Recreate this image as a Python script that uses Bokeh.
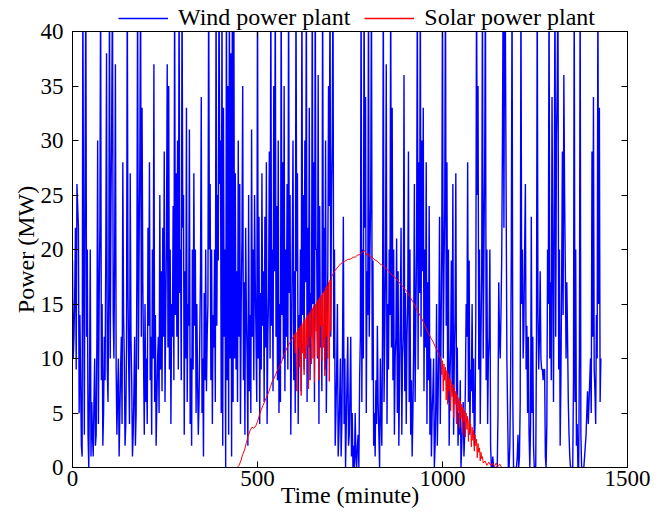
from bokeh.plotting import figure
from bokeh.layouts import column
from bokeh.models import Range1d, LinearAxis, FixedTicker, Legend, LegendItem
from bokeh.embed import file_html
from bokeh.resources import INLINE

# ---- data ----
x_ticks = [0, 500, 1000, 1500]
y_ticks = [0, 5, 10, 15, 20, 25, 30, 35, 40]

# wind power at every 4th minute (values above 40 are clipped by the axis)
wind_power = [
    19, 12, 22, 26, 22, 14, 2, 45, 3, 45,        # 0-36
    20, 0, 20, 6, 1, 10, 3, 30, 15, 45,          # 40-76
    15, 5, 8, 38, 6, 45, 24, 45, 10, 37,         # 80-116
    3, 10, 5, 12, 28, 10, 4, 45, 9, 27,          # 120-156
    8, 3, 12, 5, 45, 20, 45, 33, 10, 15,         # 160-196
    10, 22, 28, 12, 20, 37, 14, 6, 12, 25,       # 200-236
    18, 22, 29, 14, 37, 35, 20, 15, 24, 45,      # 240-276
    27, 30, 45, 20, 45, 25, 18, 33, 15, 31,      # 280-316
    10, 20, 27, 20, 15, 3, 12, 34, 10, 16,       # 320-356
    20, 12, 45, 26, 20, 14, 20, 45, 25, 45,      # 360-396
    30, 45, 33, 20, 45, 35, 45, 38, 45, 45,      # 400-436
    27, 18, 30, 26, 15, 35, 17, 22, 10, 25,      # 440-476
    14, 31, 20, 25, 12, 45, 23, 16, 27, 18,      # 480-516
    23, 28, 12, 29, 45, 20, 35, 45, 24, 30,      # 520-556
    15, 45, 28, 35, 20, 26, 45, 25, 12, 30,      # 560-596
    18, 45, 27, 14, 20, 45, 25, 30, 45, 22,      # 600-636
    33, 16, 45, 28, 45, 20, 36, 24, 14, 45,      # 640-676
    22, 30, 12, 35, 45, 25, 45, 20, 5, 15,       # 680-716
    3, 10, 4, 23, 10, 4, 12, 3, 12, 5,           # 720-756
    2, 5, 0, 3, 8, 45, 20, 45, 34, 18,           # 760-796
    45, 20, 45, 19, 5, 8, 13, 3, 10, 2,          # 800-836
    45, 12, 37, 15, 20, 45, 33, 20, 10, 21,      # 840-876
    18, 8, 22, 10, 36, 16, 12, 29, 20, 8,        # 880-916
    5, 26, 14, 45, 28, 45, 30, 33, 20, 28,       # 920-956
    17, 24, 10, 5, 10, 2, 15, 6, 23, 12,         # 960-996
    45, 18, 45, 28, 20, 8, 19, 26, 10, 27,       # 1000-1036
    11, 5, 8, 2, 6, 3, 15, 28, 19, 9,            # 1040-1076
    15, 10, 4, 45, 35, 20, 12, 45, 20, 45,       # 1080-1116
    20, 10, 20, 0, 1, 0, 0, 0, 17, 10,           # 1120-1156
    19, 45, 45, 25, 5, 0, 8, 45, 0, 0,           # 1160-1196
    0, 3, 1, 45, 20, 13, 26, 13, 12, 0,          # 1200-1236
    23, 12, 0, 0, 45, 9, 18, 9, 8, 9,            # 1240-1276
    0, 20, 45, 17, 34, 6, 45, 30, 45, 20,        # 1280-1316
    8, 29, 36, 18, 17, 6, 1, 0, 0, 45,           # 1320-1356
    20, 4, 0, 45, 0, 0, 1, 3, 7, 6,              # 1360-1396
    10, 29, 34, 7, 14, 45, 33, 10,               # 1400-1428
]
# wind power at the minutes in between (2, 6, 10, ...)
wind_power_between = [
    10, 16, 9, 24, 5, 8, 1, 18, 28, 12,          # 2-38
    3, 8, 1, 3, 6, 2, 12, 4, 22, 8,              # 42-78
    2, 12, 20, 9, 16, 10, 32, 14, 20, 9,         # 82-118
    7, 1, 9, 4, 14, 2, 11, 16, 4, 12,            # 122-158
    1, 7, 2, 18, 9, 28, 12, 17, 3, 6,            # 162-198
    4, 13, 8, 3, 10, 6, 2, 10, 5, 9,             # 202-238
    7, 12, 6, 21, 11, 9, 4, 12, 8, 14,           # 242-278
    12, 9, 16, 8, 22, 3, 10, 6, 13, 4,           # 282-318
    2, 9, 13, 5, 8, 6, 18, 5, 1, 8,              # 322-358
    7, 15, 20, 8, 4, 11, 6, 13, 19, 26,          # 362-398
    5, 2, 12, 0, 8, 3, 10, 1, 6, 10,             # 402-438
    9, 6, 12, 4, 21, 8, 3, 14, 2, 7,             # 442-478
    5, 12, 8, 17, 6, 10, 4, 9, 13, 6,            # 482-518
    11, 4, 16, 10, 13, 7, 18, 12, 8, 5,          # 522-558
    6, 14, 10, 7, 12, 9, 16, 3, 20, 8,           # 562-598
    5, 18, 4, 10, 7, 14, 9, 17, 6, 11,           # 602-638
    8, 12, 15, 6, 20, 10, 4, 11, 7, 16,          # 642-678
    9, 5, 18, 24, 12, 30, 10, 2, 9, 1,           # 682-718
    6, 1, 12, 4, 0, 8, 2, 7, 1, 0,               # 722-758
    0, 1, 2, 0, 12, 6, 10, 22, 5, 14,            # 762-798
    12, 25, 8, 2, 1, 4, 6, 0, 5, 13,             # 802-838
    6, 19, 4, 9, 14, 11, 8, 3, 12, 5,            # 842-878
    2, 14, 3, 12, 7, 4, 15, 6, 3, 1,             # 882-918
    11, 6, 20, 9, 16, 12, 18, 7, 11, 4,          # 922-958
    8, 3, 1, 7, 0, 6, 2, 11, 4, 20,              # 962-998
    10, 24, 13, 6, 2, 11, 7, 3, 14, 4,           # 1002-1038
    2, 3, 0, 4, 1, 8, 12, 6, 3, 7,               # 1042-1078
    5, 2, 14, 25, 9, 4, 18, 10, 28, 8,           # 1082-1118
    4, 12, 2, 0, 0, 0, 0, 5, 12, 14,             # 1122-1158
    30, 22, 40, 10, 0, 2, 20, 6, 0, 0,           # 1162-1198
    1, 0, 6, 15, 10, 20, 9, 5, 3, 4,             # 1202-1238
    5, 2, 0, 12, 14, 12, 10, 9, 9, 1,            # 1242-1278
    4, 15, 10, 8, 19, 24, 12, 35, 9, 2,          # 1282-1318
    17, 14, 25, 10, 12, 3, 0, 0, 8, 6,           # 1322-1358
    2, 0, 10, 3, 0, 0, 2, 5, 4, 8,               # 1362-1398
    5, 12, 9, 4, 10, 15, 6,                      # 1402-1426
]
wind_series = []
for i, v in enumerate(wind_power):
    wind_series.append(v)
    if i < len(wind_power_between):
        wind_series.append(wind_power_between[i])
wind_time = [2 * i for i in range(len(wind_series))]

# solar power, piecewise samples
solar_rise_time = [0, 440] + list(range(445, 600, 5))
solar_rise_power = [0, 0, 0.0, 0.2, 0.6, 1.2, 1.6, 2.3, 2.9, 3.4, 3.7, 3.6, 3.8,
                    4.2, 4.8, 5.3, 5.7, 6.1, 6.5, 6.9, 7.4, 7.9, 8.2, 8.6, 9.0,
                    9.3, 9.7, 10.2, 10.6, 11.0, 11.3, 11.6, 11.9]

solar_noisy1_time = list(range(600, 700, 2))
solar_noisy1_power = [
    12.2, 10.5, 12.4, 7.0, 12.6, 11.0, 12.8, 9.2, 13.0, 6.6,
    13.2, 10.5, 13.4, 8.5, 13.6, 10.0, 13.8, 11.2, 14.0, 7.2,
    14.2, 12.0, 14.4, 9.5, 14.6, 10.0, 14.8, 7.8, 15.0, 12.5,
    15.2, 10.2, 15.4, 8.0, 15.6, 13.0, 15.8, 9.8, 16.0, 11.0,
    16.2, 8.4, 16.5, 12.0, 16.7, 10.0, 17.0, 7.9, 17.2, 12.5,
]

solar_mid_time = list(range(700, 1000, 5))
solar_mid_power = [
    17.5, 17.8, 18.1, 18.3, 18.5, 18.7, 18.8, 18.9, 19.0, 19.1,
    19.1, 19.2, 19.3, 19.3, 19.5, 19.5, 19.7, 19.8, 19.9, 19.5,
    19.6, 19.3, 19.3, 19.1, 19.0, 18.9, 18.7, 18.6, 18.5, 18.3,
    18.2, 18.0, 17.8, 17.6, 17.5, 17.3, 17.1, 16.9, 16.7, 16.5,
    16.3, 16.1, 15.8, 15.5, 15.2, 14.9, 14.5, 14.2, 13.9, 13.6,
    13.2, 12.8, 12.4, 12.1, 11.8, 11.5, 11.1, 10.8, 10.4, 10.0,
]

solar_noisy2_time = list(range(996, 1112, 2))
solar_noisy2_power = [
    10.0, 8.5, 9.8, 7.0, 9.5, 8.0, 9.2, 6.2, 8.9, 5.8,
    8.6, 7.0, 8.2, 5.2, 7.9, 6.5, 7.6, 4.6, 7.3, 5.8,
    7.0, 4.0, 6.7, 5.2, 6.4, 3.6, 6.1, 4.5, 5.8, 3.0,
    5.5, 4.2, 5.2, 2.8, 5.0, 3.5, 4.7, 2.4, 4.4, 3.2,
    4.0, 1.9, 3.7, 2.5, 3.4, 1.5, 3.0, 2.0, 2.6, 0.9,
    2.2, 1.4, 1.8, 0.6, 1.4, 0.8, 1.0, 0.4,
]

solar_tail_time = [1115, 1120, 1125, 1130, 1135, 1140, 1145, 1150, 1155, 1160, 1170, 1436]
solar_tail_power = [0.6, 0.2, 0.5, 0.2, 0.4, 0.1, 0.4, 0.1, 0.3, 0.0, 0.0, 0.0]

solar_time = solar_rise_time + solar_noisy1_time + solar_mid_time + solar_noisy2_time + solar_tail_time
solar_power = solar_rise_power + solar_noisy1_power + solar_mid_power + solar_noisy2_power + solar_tail_power

series_names = ["Wind power plant", "Solar power plant"]
series_colors = ["#0000FF", "#FF0000"]

# ---- main figure ----
FONT = "Liberation Serif"

p = figure(width=660, height=498, output_backend="svg", toolbar_location=None,
           x_range=Range1d(0, 1500), y_range=Range1d(0, 40),
           min_border_left=72, min_border_right=33, min_border_top=14, min_border_bottom=48)
p.margin = (-14, 0, 0, 0)
p.background_fill_color = "white"
p.border_fill_alpha = 0
p.outline_line_color = "black"
p.outline_line_width = 1
p.xgrid.visible = False
p.ygrid.visible = False

p.line(wind_time, wind_series, line_color=series_colors[0], line_width=1.4)
p.line(solar_time, solar_power, line_color=series_colors[1], line_width=1)


def style_axis(ax, labels=True):
    ax.axis_line_color = "black"
    ax.major_tick_line_color = "black"
    ax.major_tick_in = 6
    ax.major_tick_out = 0
    ax.minor_tick_line_color = None
    ax.major_label_text_font = FONT
    ax.axis_label_text_font = FONT
    ax.axis_label_text_font_style = "normal"
    ax.axis_label_text_font_size = "24px"
    ax.axis_label_text_color = "black"
    if labels:
        ax.major_label_text_font_size = "23px"
        ax.major_label_text_color = "black"
    else:
        ax.major_label_text_font_size = "0px"
        ax.major_label_text_color = None
        ax.major_label_standoff = 0


xa = p.xaxis[0]
xa.ticker = FixedTicker(ticks=x_ticks)
style_axis(xa)
xa.axis_label = "Time (minute)"
xa.major_label_standoff = 3
xa.axis_label_standoff = -7

ya = p.yaxis[0]
ya.ticker = FixedTicker(ticks=y_ticks)
style_axis(ya)
ya.axis_label = "Power (MW)"
ya.major_label_standoff = 9
ya.axis_label_standoff = -1

top = LinearAxis(ticker=FixedTicker(ticks=x_ticks))
style_axis(top, labels=False)
p.add_layout(top, "above")

right = LinearAxis(ticker=FixedTicker(ticks=y_ticks))
style_axis(right, labels=False)
p.add_layout(right, "right")

# ---- legend strip above the plot ----
pl = figure(width=660, height=31, output_backend="svg", toolbar_location=None,
            x_range=Range1d(0, 1), y_range=Range1d(0, 1),
            min_border_left=0, min_border_right=0, min_border_top=0, min_border_bottom=0)
pl.axis.visible = False
pl.xgrid.visible = False
pl.ygrid.visible = False
pl.outline_line_color = None
pl.background_fill_color = "white"
pl.border_fill_color = "white"
items = []
for name, col in zip(series_names, series_colors):
    # a key line only: its points lie outside the strip's ranges
    r = pl.line([-2, -1], [-2, -1], line_color=col, line_width=1.5)
    items.append(LegendItem(label=name, renderers=[r]))
legend = Legend(items=items, orientation="horizontal", location=(46, 0))
legend.label_text_font = FONT
legend.label_text_font_size = "24px"
legend.label_text_color = "black"
legend.glyph_width = 50
legend.label_standoff = 10
legend.spacing = 14
legend.padding = 0
legend.margin = 0
legend.border_line_alpha = 0
legend.background_fill_alpha = 0
pl.add_layout(legend)

layout = column(pl, p, spacing=0)
open("out.html", "w").write(file_html(layout, INLINE))
